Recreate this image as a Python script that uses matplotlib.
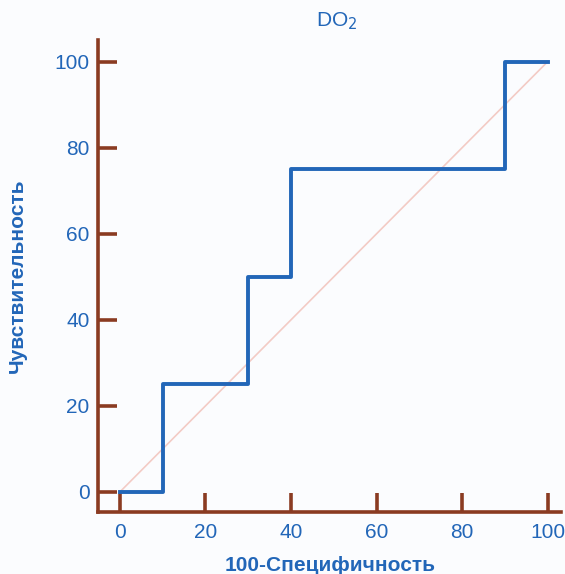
import numpy as np
import matplotlib.pyplot as plt

plt.rcParams['font.family'] = ['Liberation Sans', 'DejaVu Sans']

# ROC curve points (100-specificity, sensitivity)
fpr = [0, 10, 30, 40, 90, 100]
tpr = [0, 25, 50, 75, 100, 100]
ticks = [0, 20, 40, 60, 80, 100]

blue = '#2266b8'
brown = '#8a3b22'

fig = plt.figure(figsize=(5.65, 5.74), dpi=100)
ax = fig.add_axes([0.1735, 0.108, 0.82, 0.822])
fig.patch.set_facecolor('#fbfcfe')
ax.set_facecolor('#fbfcfe')

ax.plot([0, 100], [0, 100], color='#f3cbc5', lw=1.2)
ax.plot(fpr, tpr, drawstyle='steps-post', color=blue, lw=2.8)

ax.set_xlim(-5.1, 103.2)
ax.set_ylim(-4.65, 105)
ax.set_xticks(ticks)
ax.set_yticks(ticks)
for s in ['top', 'right']:
    ax.spines[s].set_visible(False)
for s in ['left', 'bottom']:
    ax.spines[s].set_color(brown)
    ax.spines[s].set_linewidth(2.6)
ax.tick_params(direction='in', length=14, width=2.6, color=brown,
               labelcolor=blue, labelsize=15)
ax.tick_params(axis='x', pad=8)
ax.tick_params(axis='y', pad=6)

ax.set_title('DO$_2$', color=blue, fontsize=15, pad=10, x=0.516)
ax.set_xlabel('100-Специфичность', color=blue, fontsize=15, fontweight='bold', labelpad=10)
ax.set_ylabel('Чувствительность', color=blue, fontsize=15, fontweight='bold', labelpad=20)

fig.savefig('out.png', dpi=100, facecolor=fig.get_facecolor())
